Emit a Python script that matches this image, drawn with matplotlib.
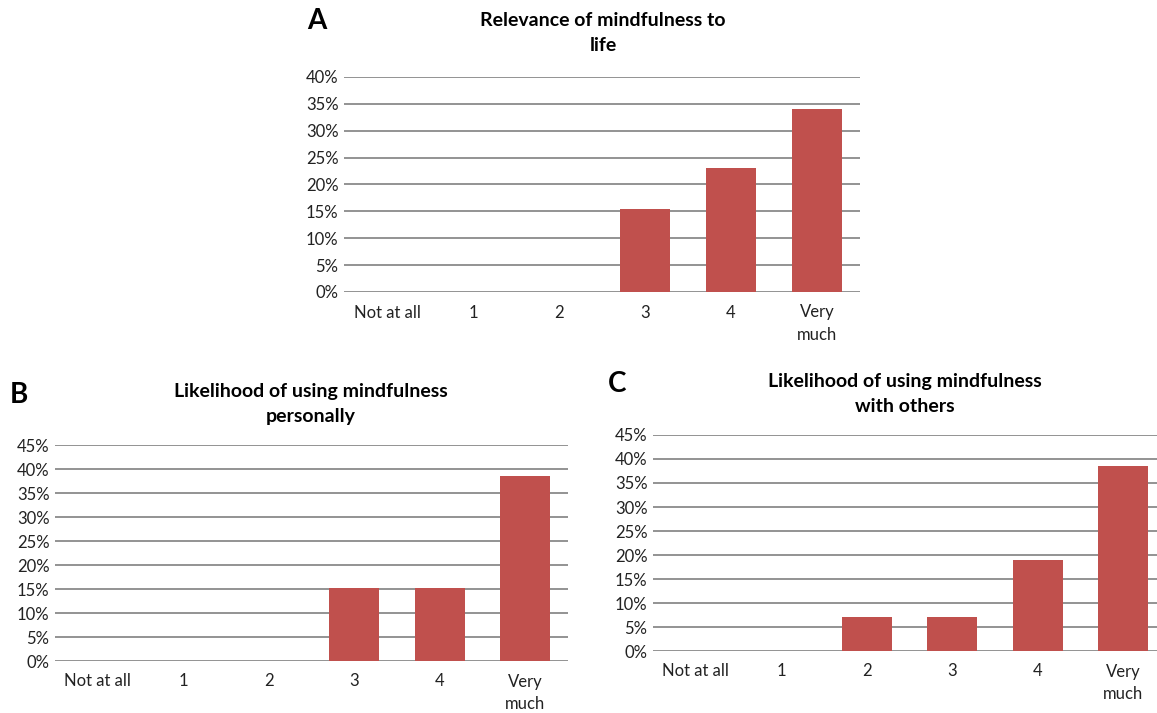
import matplotlib
matplotlib.use("Agg")
import matplotlib.pyplot as plt
from matplotlib.ticker import PercentFormatter

plt.rcParams['font.family'] = ['Lato', 'DejaVu Sans']

categories = ['Not at all', '1', '2', '3', '4', 'Very\nmuch']
relevance = [0, 0, 0, 15.4, 23.0, 34.0]
personal = [0, 0, 0, 15.3, 15.3, 38.5]
others = [0, 0, 7.0, 7.0, 19.0, 38.5]

W, H = 1157, 713
fig = plt.figure(figsize=(W / 100, H / 100), dpi=100)
bar_color = '#C0504D'
grid_color = '#8A8A8A'


def panel(x0, x1, y0, ytop, ymax, values, title, letter, title_x, title_y, letter_x, letter_y):
    # pixel coords -> figure fractions
    ax = fig.add_axes([x0 / W, 1 - y0 / H, (x1 - x0) / W, (y0 - ytop) / H])
    ax.bar(range(len(categories)), values, width=0.58, color=bar_color, zorder=3)
    ax.set_xlim(-0.5, len(categories) - 0.5)
    ax.set_ylim(0, ymax)
    ax.set_yticks(range(0, ymax + 1, 5))
    ax.yaxis.set_major_formatter(PercentFormatter(decimals=0))
    ax.set_xticks(range(len(categories)))
    ax.set_xticklabels(categories, linespacing=1.5)
    ax.tick_params(length=0, labelsize=12, colors='#222222')
    ax.tick_params(axis='x', pad=9)
    ax.tick_params(axis='y', pad=4)
    ax.grid(axis='y', color=grid_color, linewidth=1.3, zorder=0)
    for s in ax.spines.values():
        s.set_visible(False)
    fig.text(title_x / W, 1 - title_y / H, title, ha='center', va='top',
             fontsize=14, fontweight='bold', linespacing=1.55)
    fig.text(letter_x / W, 1 - letter_y / H, letter, ha='left', va='top',
             fontsize=20, fontweight='bold')
    return ax


panel(344, 860, 292, 77, 40, relevance, 'Relevance of mindfulness to\nlife', 'A',
      603, 12, 307, 8)
panel(55, 568, 661, 445, 45, personal, 'Likelihood of using mindfulness\npersonally', 'B',
      311, 383, 10, 382)
panel(653, 1166, 651, 435, 45, others, 'Likelihood of using mindfulness\nwith others', 'C',
      905, 373, 608, 371)

fig.savefig('out.png', dpi=100)
